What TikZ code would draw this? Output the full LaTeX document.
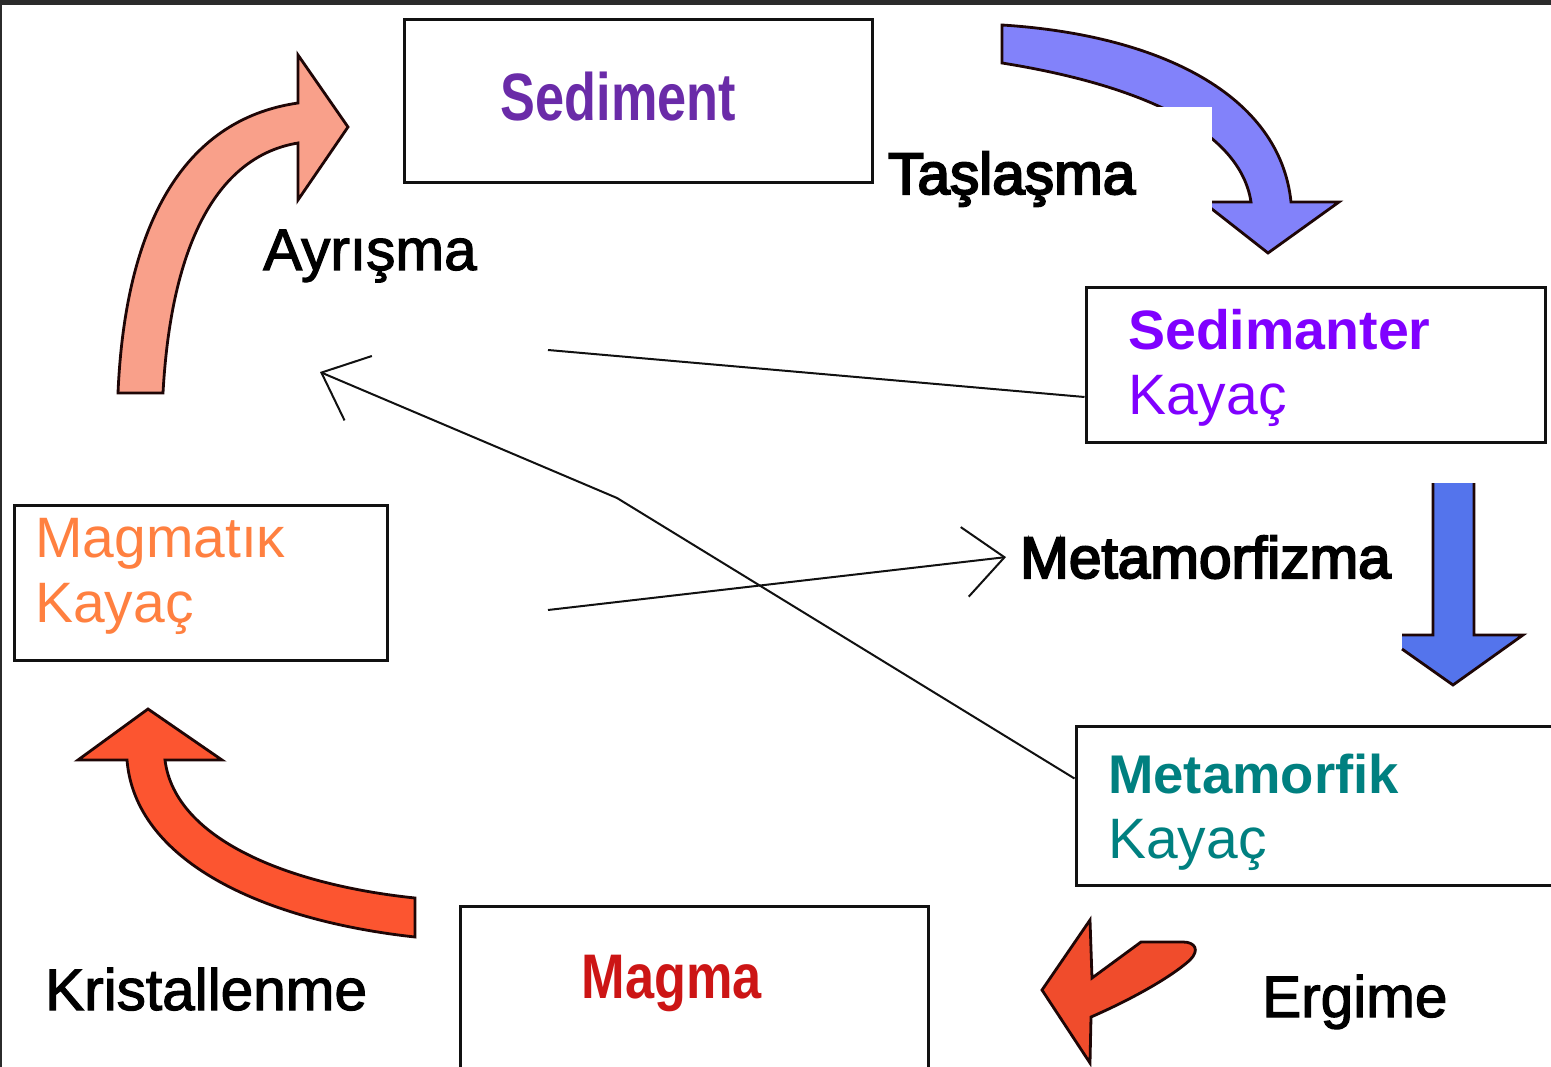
\documentclass[tikz,border=0pt]{standalone}
\usepackage{fontspec}
\usepackage{graphicx}
\setmainfont{Liberation Sans}
\newfontfamily\heavyfont{Liberation Sans}[FakeBold=3.5]
\newfontfamily\midfont{Liberation Sans}[FakeBold=2]
\usetikzlibrary{arrows.meta,positioning}
\definecolor{ink}{HTML}{111111}
\definecolor{frame}{HTML}{2B2B2B}
\definecolor{outl}{HTML}{1E0606}
\definecolor{salmonfill}{HTML}{F9A08A}
\definecolor{perifill}{HTML}{8282FA}
\definecolor{royalfill}{HTML}{5474EC}
\definecolor{lavafill}{HTML}{FC5530}
\definecolor{meltfill}{HTML}{F04C2C}
\definecolor{sedtext}{HTML}{6A2BA8}
\definecolor{sedrock}{HTML}{8000FF}
\definecolor{metarock}{HTML}{008080}
\definecolor{igrock}{HTML}{FF8040}
\definecolor{magtext}{HTML}{CC1515}

\begin{document}
\begin{tikzpicture}[x=1pt,y=-1pt,>={Straight Barb[length=40pt,width=70pt]},
  box/.style={draw=ink,line width=3pt,inner sep=0pt},
  rocktxt/.style={align=left,anchor=base west,inner sep=0pt,font=\fontsize{57}{65}\selectfont},
  lbl/.style={font=\fontsize{58.5}{66}\selectfont,inner sep=0pt,anchor=base west},
  blk/.style={draw=outl,line width=2.8pt,line join=miter},
  wire/.style={draw=ink,line width=2pt}]
  \useasboundingbox (0,0) rectangle (1551,1067);
  \fill[frame] (0,0) rectangle (1551,5);
  \fill[frame] (0,0) rectangle (2,1067);

  % rock boxes
  \node[box,minimum width=468pt,minimum height=163pt] (sed) at (638,101.5) {};
  \node[box,minimum width=459pt,minimum height=154pt] (sedk) at (1315.5,365) {};
  \node[box,minimum width=484pt,minimum height=159pt] (metk) at (1318,805.5) {};
  \node[box,minimum width=468pt,minimum height=169pt] (mag) at (694,990.5) {};
  \node[box,minimum width=373pt,minimum height=155pt] (igk) at (200.5,582.5) {};

  \node[anchor=base,inner sep=0pt,text=sedtext,font=\fontsize{67}{70}\selectfont\bfseries]
    (sedt) at (618.5,121) {\scalebox{0.78}[1]{Sediment}};
  \node[anchor=base,inner sep=0pt,text=magtext,font=\fontsize{63}{66}\selectfont\bfseries]
    (magt) at (672,998) {\scalebox{0.83}[1]{Magma}};
  \node[rocktxt,text width=400pt,text=sedrock] (sedkt) at (1128,350)
    {{\fontsize{55.5}{65}\selectfont\bfseries Sedimanter}\\Kayaç};
  \node[rocktxt,text width=420pt,text=metarock] (metkt) at (1108,793)
    {{\fontsize{54.5}{65}\selectfont\bfseries Metamorfik}\\Kayaç};
  \node[rocktxt,text width=340pt,text=igrock] (igkt) at (35,557) {Magmatıĸ\\Kayaç};

  % block arrows
  \filldraw[blk,fill=salmonfill] (118,393) .. controls (125,230) and (180,120) .. (298,103)
    -- (298,55) -- (348,127) -- (298,200) -- (298,143)
    .. controls (225,155) and (172,230) .. (163,393) -- cycle;
  \begin{scope}
    \clip (990,0) -- (1400,0) -- (1400,300) -- (1212,300) -- (1212,107) -- (990,107) -- cycle;
    \filldraw[blk,fill=perifill] (1002,25) .. controls (1160,35) and (1280,95) .. (1291,202)
      -- (1339,202) -- (1268,253) -- (1203,202) -- (1251,202)
      .. controls (1240,130) and (1140,85) .. (1002,63) -- cycle;
  \end{scope}
  \fill[royalfill] (1433,483) -- (1433,635) -- (1402,635) -- (1402,649) -- (1453,685)
    -- (1523,635) -- (1474,635) -- (1474,483) -- cycle;
  \draw[blk] (1433,483) -- (1433,635) -- (1402,635) (1402,649) -- (1453,685)
    -- (1523,635) -- (1474,635) -- (1474,483);
  \filldraw[blk,fill=lavafill] (415,898) .. controls (290,885) and (175,840) .. (165,760)
    -- (222,760) -- (148,709) -- (78,760) -- (127,760)
    .. controls (135,860) and (260,920) .. (415,937) -- cycle;
  \filldraw[blk,fill=meltfill] (1090,920) -- (1042,990) -- (1090,1063) -- (1091,1017)
    .. controls (1130,1000) and (1170,978) .. (1190,960)
    .. controls (1200,950) and (1195,942) .. (1183,942) -- (1141,942) -- (1092,978) -- cycle;

  % process labels
  \node[lbl] (tas) at (888,194) {\heavyfont Taşlaşma};
  \node[lbl] (ayr) at (263,270) {\midfont Ayrışma};
  \node[lbl,inner xsep=14pt] (metz) at (1006,578) {\heavyfont Metamorfizma};
  \node[lbl] (kri) at (45,1010) {\midfont Kristallenme};
  \node[lbl] (erg) at (1262,1017) {\midfont Ergime};

  % thin connectors
  \coordinate (sedend) at (548,350);
  \coordinate (bend) at (617,498);
  \coordinate (tipL) at (320,372);
  \coordinate (mstart) at (548,610);
  \draw[wire] ([yshift=-32pt]sedk.west) -- (sedend);
  \draw[wire,->] ([yshift=27pt]metk.west) -- (bend) -- (tipL);
  \draw[wire,->] (mstart) -- (metz.west);
\end{tikzpicture}
\end{document}
